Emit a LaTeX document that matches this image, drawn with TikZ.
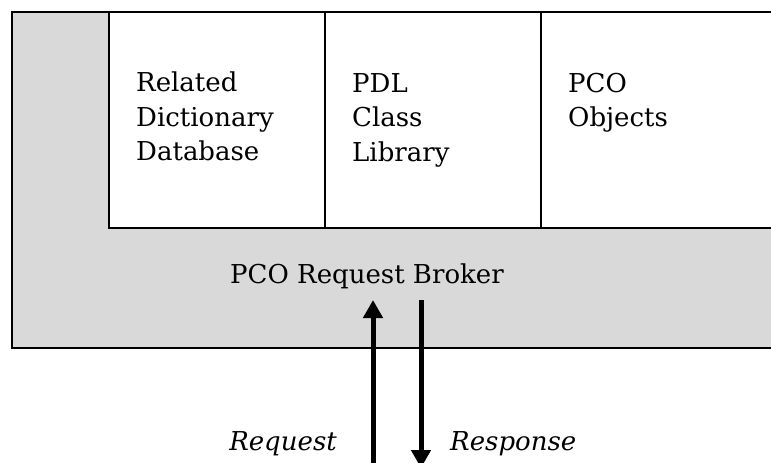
\documentclass[tikz,border=0pt]{standalone}
\usepackage{fontspec}
\setmainfont{DejaVu Serif}
\usetikzlibrary{arrows.meta}
\definecolor{brokergray}{RGB}{217,217,217}
\tikzset{
  frame/.style={draw=black, line width=2.6pt},
  label/.style={inner sep=0pt, font=\fontsize{26}{34.5}\selectfont, align=left},
  flow/.style={line width=5pt, -{Triangle[width=19pt,length=18pt]}},
  caption/.style={inner sep=0pt, font=\fontsize{26}{34.5}\selectfont\itshape}
}
\begin{document}
\begin{tikzpicture}[x=1pt, y=-1pt]
  \useasboundingbox (0,0) rectangle (771,463);
  \clip (0,0) rectangle (771,463);
  % broker layer (grey) and the three component boxes on top
  \path[frame, fill=brokergray] (12,12) rectangle (800,348);
  \path[frame, fill=white] (109,12) rectangle (800,228);
  \draw[frame] (325,12) -- (325,228);
  \draw[frame] (541,12) -- (541,228);
  % component texts
  \node[label, anchor=north west] (rdd) at (136,72) {Related\\Dictionary\\Database};
  \node[label, anchor=north west] (pdl) at (352,73) {PDL\\Class\\Library};
  \node[label, anchor=north west] (pco) at (568,73) {PCO\\Objects};
  \node[label, anchor=base] (broker) at (367,283) {PCO Request Broker};
  % request / response flows
  \coordinate (reqfoot) at (373,470);
  \coordinate (reqhead) at (373,300);
  \coordinate (resfoot) at (421,300);
  \coordinate (reshead) at (421,468);
  \draw[flow] (reqfoot) -- (reqhead);
  \draw[flow] (resfoot) -- (reshead);
  \node[caption, anchor=base east] (req) at (337,450) {Request};
  \node[caption, anchor=base west] (res) at (450,450) {Response};
\end{tikzpicture}
\end{document}
